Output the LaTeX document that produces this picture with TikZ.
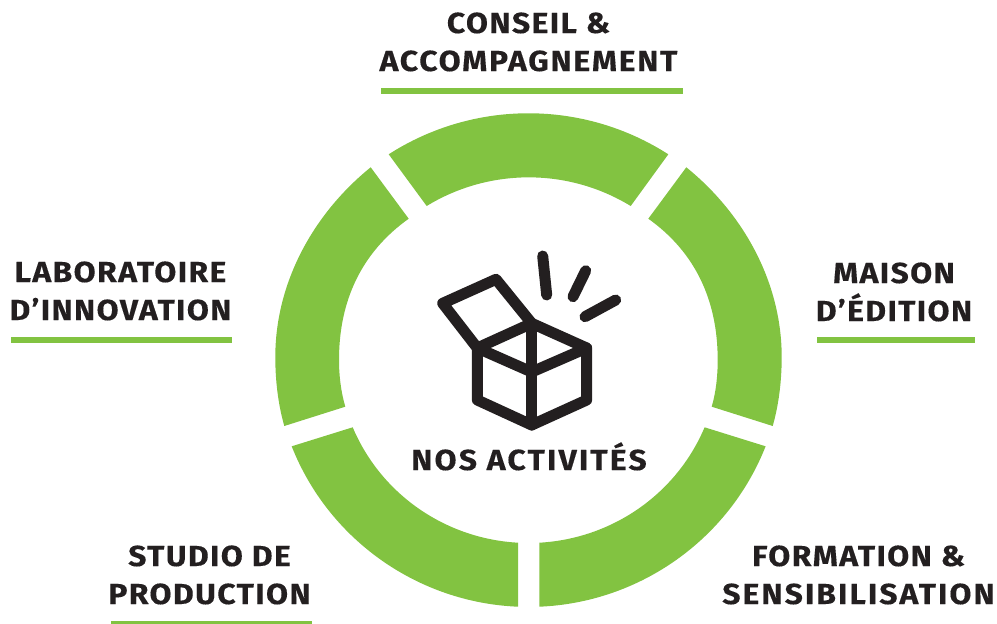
\documentclass[tikz,border=0pt]{standalone}
\usepackage{fontspec}
\setmainfont{Fira Sans}[BoldFont={Fira Sans Bold},BoldFeatures={FakeStretch=1.1,LetterSpace=4.8,FakeBold=0.25}]
\newfontface\labwideA{Fira Sans Bold}[FakeStretch=1.1,LetterSpace=6,FakeBold=0.25]
\newfontface\labwideB{Fira Sans Bold}[FakeStretch=1.1,LetterSpace=7.1,FakeBold=0.25]
\newfontface\labwideC{Fira Sans Bold}[FakeStretch=1.1,LetterSpace=7.5,FakeBold=0.25]
\definecolor{leaf}{HTML}{82C341}
\definecolor{ink}{HTML}{231F20}
\tikzset{
  seg/.style={fill=leaf,draw=none},
  rule/.style={fill=leaf,draw=none},
  lab/.style={text=ink,font=\fontsize{29}{38}\selectfont\bfseries,align=center,inner sep=0pt,anchor=base},
  boxline/.style={draw=ink,line width=11pt,line join=round,line cap=round}
}
\begin{document}
\begin{tikzpicture}[x=1pt,y=-1pt]
\useasboundingbox (0,0) rectangle (997,624);
% top
\fill[seg] (388.7,154.3) .. controls (473.9,99.6) and (583.1,99.6) .. (668.3,154.3)
  -- (630.7,206) .. controls (568.1,167.8) and (489.3,167.8) .. (426.7,206) -- cycle;
% left
\fill[seg] (370.7,167.3) .. controls (313,214) and (275.3,283) .. (275.3,357)
  .. controls (275.3,380) and (278,404) .. (284.3,426)
  -- (345.3,406.7) .. controls (341,392) and (339,376) .. (339,360)
  .. controls (339,300) and (362,252) .. (408.7,218.7) -- cycle;
% right
\fill[seg] (686.3,167.3) .. controls (744,214) and (781.7,283) .. (781.7,357)
  .. controls (781.7,380) and (779,404) .. (772.7,426)
  -- (711.7,406.7) .. controls (716,392) and (717.7,376) .. (717.7,360)
  .. controls (717.7,300) and (695,252) .. (648.3,218.7) -- cycle;
% bottom left
\fill[seg] (291.7,446.3) .. controls (328.5,539.6) and (417.8,602.6) .. (518,606.7)
  -- (518,542.7) .. controls (445.4,538.7) and (381,494.3) .. (352.7,427.3) -- cycle;
% bottom right
\fill[seg] (765.6,446.3) .. controls (728.8,539.6) and (639.5,602.6) .. (539.3,606.7)
  -- (539.3,542.7) .. controls (611.9,538.7) and (676.3,494.3) .. (704.6,427.3) -- cycle;
% rules
\fill[rule] (380.5,88.3) rectangle (683,94.3);
\fill[rule] (11,337) rectangle (232,343);
\fill[rule] (817,337) rectangle (975,343);
\fill[rule] (111.3,620.7) rectangle (312,624);
% box icon
\draw[boxline] (477.3,348) -- (531.7,323.3) -- (586.7,348) -- (586.7,400) -- (531.7,425) -- (477.3,400) -- cycle;
\draw[boxline] (477.3,348) -- (531.7,372) -- (586.7,348);
\draw[boxline] (531.7,323.3) -- (531.7,425);
\draw[boxline] (477.3,348) -- (442.7,303.3) -- (496,279.3) -- (531.7,323.3);
\draw[boxline] (542.7,256) -- (546.7,295);
\draw[boxline] (585.7,270.7) -- (573,296.7);
\draw[boxline] (615.7,300) -- (585,316.7);
% labels
\node[lab] (conseil) at (528.5,71) {CONSEIL \&\\{\labwideA ACCOMPAGNEMENT}};
\node[lab] (labo) at (120.5,320) {LABORATOIRE\\D’INNOVATION};
\node[lab] (maison) at (894,321) {MAISON\\D’ÉDITION};
\node[lab] (formation) at (858.5,604) {FORMATION \&\\{\labwideB SENSIBILISATION}};
\node[lab] (studio) at (209.5,604) {STUDIO DE\\PRODUCTION};
\node[lab] (nos) at (529,470) {\labwideC NOS ACTIVITÉS};
\end{tikzpicture}
\end{document}
